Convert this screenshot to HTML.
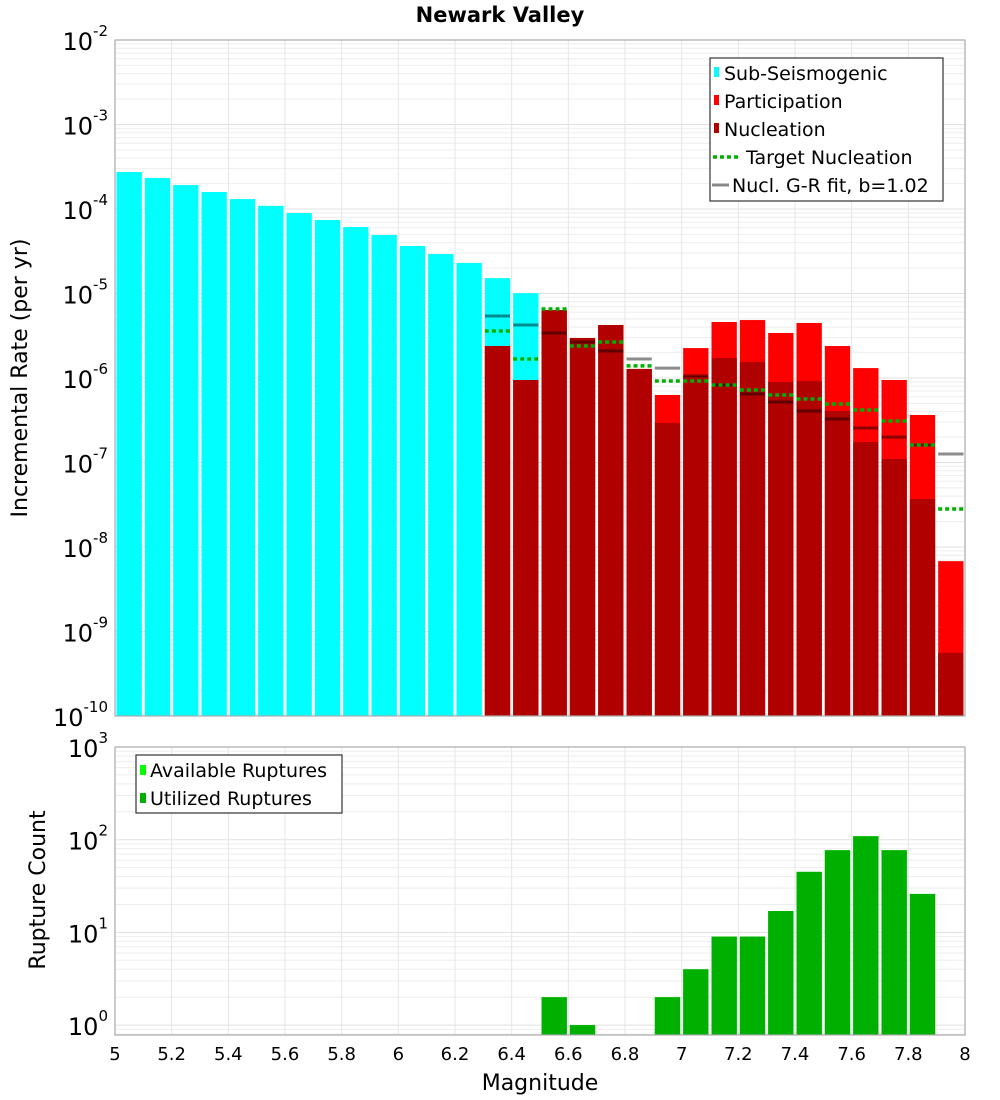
<!DOCTYPE html>
<html><head><meta charset="utf-8"><style>
body{margin:0;background:#fff;}
svg{display:block;font-family:"DejaVu Sans","Liberation Sans",sans-serif;}
</style></head><body>
<svg id="chart" width="1000" height="1100" viewBox="0 0 1000 1100" xmlns="http://www.w3.org/2000/svg">
<text x="500" y="22" text-anchor="middle" font-size="21" font-weight="bold">Newark Valley</text>
<g id="gtop"></g><g id="gbot"></g>
</svg>
<script>
// ---- data ----
const binStarts=[5.0,5.1,5.2,5.3,5.4,5.5,5.6,5.7,5.8,5.9,6.0,6.1,6.2,6.3,6.4,6.5,6.6,6.7,6.8,6.9,7.0,7.1,7.2,7.3,7.4,7.5,7.6,7.7,7.8,7.9];
const subSeis=[2.74e-4,2.33e-4,1.92e-4,1.59e-4,1.31e-4,1.09e-4,8.97e-5,7.41e-5,6.12e-5,4.92e-5,3.65e-5,2.93e-5,2.30e-5,1.52e-5,1.01e-5,0,0,0,0,0,0,0,0,0,0,0,0,0,0,0];
const participation=[0,0,0,0,0,0,0,0,0,0,0,0,0,2.39e-6,9.47e-7,6.38e-6,2.97e-6,4.24e-6,1.28e-6,6.3e-7,2.26e-6,4.60e-6,4.85e-6,3.41e-6,4.48e-6,2.39e-6,1.31e-6,9.47e-7,3.65e-7,6.8e-9];
const nucleation=[0,0,0,0,0,0,0,0,0,0,0,0,0,2.39e-6,9.47e-7,6.38e-6,2.97e-6,4.24e-6,1.28e-6,2.93e-7,1.06e-6,1.73e-6,1.55e-6,8.97e-7,9.2e-7,4.07e-7,1.75e-7,1.10e-7,3.7e-8,5.6e-10];
const targetNucl=[null,null,null,null,null,null,null,null,null,null,null,null,null,3.60e-6,1.68e-6,6.56e-6,2.39e-6,2.67e-6,1.39e-6,9.2e-7,9.2e-7,8.26e-7,7.2e-7,6.3e-7,5.64e-7,4.92e-7,4.18e-7,3.10e-7,1.61e-7,2.82e-8];
const grFit=[null,null,null,null,null,null,null,null,null,null,null,null,null,5.42e-6,4.24e-6,3.41e-6,2.67e-6,2.09e-6,1.68e-6,1.31e-6,1.06e-6,8.26e-7,6.47e-7,5.20e-7,4.07e-7,3.27e-7,2.56e-7,2.00e-7,1.61e-7,1.26e-7];
const available=[0,0,0,0,0,0,0,0,0,0,0,0,0,0,0,2,1,0,0,2,4,9,9,17,45,77,109,77,26,0];
const utilized=[0,0,0,0,0,0,0,0,0,0,0,0,0,0,0,2,1,0,0,2,4,9,9,17,45,77,109,77,26,0];
const xTicks=[5,5.2,5.4,5.6,5.8,6,6.2,6.4,6.6,6.8,7,7.2,7.4,7.6,7.8,8];
const topExps=[-2,-3,-4,-5,-6,-7,-8,-9,-10];
const botExps=[3,2,1,0];

const NS="http://www.w3.org/2000/svg";
const L=115,R=965,TT=40,TB=716,BT=747,BB=1035;
const X=m=>L+(m-5)/3*(R-L);
const YT=v=>TT+(-2-Math.log10(v))*(TB-TT)/8;
const YB=v=>BT+(3-Math.log10(v))*92.7;
function mk(tag,attrs,parent){const e=document.createElementNS(NS,tag);for(const k in attrs)e.setAttribute(k,attrs[k]);parent.appendChild(e);return e;}
const gTop=document.getElementById('gtop'),gBot=document.getElementById('gbot');

function grid(g,y0,y1,lo,hi,Y){
  mk('rect',{x:L,y:y0,width:R-L,height:y1-y0,fill:'#fff'},g);
  for(let e=lo;e<hi;e++)for(let k=1;k<10;k++){const v=k*Math.pow(10,e);const y=Y(v);if(y<y0||y>y1)continue;
    const l=mk('line',{x1:L,x2:R,y1:y,y2:y,stroke:k==1?'#e0e0e0':'#eeeeee','stroke-width':1},g);
    
    }
  xTicks.forEach(t=>{const l=mk('line',{x1:X(t),x2:X(t),y1:y0,y2:y1,stroke:'#e6e6e6'},g);
    
    });
}
grid(gTop,TT,TB,-10,-2,YT);
grid(gBot,BT,BB,-1,3,YB);

function bar(g,i,v,Y,fill,base,name){if(!v)return;const x0=X(binStarts[i])+1.5,x1=X(binStarts[i]+0.1)-1.5;const y=Y(v);
  const r=mk('rect',{x:x0,y:y,width:x1-x0,height:base-y,fill:fill},g);
  
  }
binStarts.forEach((m,i)=>{bar(gTop,i,subSeis[i],YT,'#00ffff',TB,'sub-seismogenic-bar');});
binStarts.forEach((m,i)=>{bar(gTop,i,participation[i],YT,'#ff0000',TB,'participation-bar');});
binStarts.forEach((m,i)=>{bar(gTop,i,nucleation[i],YT,'#b00000',TB,'nucleation-bar');});
function seg(g,i,v,stroke,dash,name,w){if(v==null)return;const x0=X(binStarts[i])+1.5,x1=X(binStarts[i]+0.1)-1.5;const y=YT(v);
  const a={x1:x0,x2:x1,y1:y,y2:y,stroke:stroke,'stroke-width':w};if(dash)a['stroke-dasharray']=dash;
  const l=mk('line',a,g);
  
  }
binStarts.forEach((m,i)=>seg(gTop,i,grFit[i],'rgba(0,0,0,0.45)',null,'gr-fit-segment',3));
binStarts.forEach((m,i)=>seg(gTop,i,targetNucl[i],'#00b000','4,3','target-nucleation-segment',3.5));
binStarts.forEach((m,i)=>{bar(gBot,i,available[i],YB,'#00ff00',BB,'available-ruptures-bar');});
binStarts.forEach((m,i)=>{bar(gBot,i,utilized[i],YB,'#00b000',BB,'utilized-ruptures-bar');});

const svgEl=document.getElementById('chart');
[[TT,TB],[BT,BB]].forEach(([a,b])=>{const f=mk('rect',{x:L,y:a,width:R-L,height:b-a,fill:'none',stroke:'#aaa','stroke-width':1.2},svgEl);
  
  });

function ylab(y,e,name){const t=mk('text',{x:108,y:y+10,'text-anchor':'end','font-size':24},svgEl);
  
  
  t.textContent='10';const s=mk('tspan',{dy:-14,'font-size':15},t);s.textContent=String(e);}
topExps.forEach(e=>ylab(YT(Math.pow(10,e)),e,'y-tick-label-top'));
botExps.forEach(e=>ylab(YB(Math.pow(10,e)),e,'y-tick-label-bottom'));
xTicks.forEach(t=>{const e=mk('text',{x:X(t),y:1060,'text-anchor':'middle','font-size':18},svgEl);
  
  
  e.textContent=String(t);});
</script>
<svg style="position:absolute;left:0;top:0" width="1000" height="1100">
<text x="540" y="1090" text-anchor="middle" font-size="22" font-family="DejaVu Sans, sans-serif">Magnitude</text>
<text transform="translate(27,378) rotate(-90)" text-anchor="middle" font-size="22" font-family="DejaVu Sans, sans-serif">Incremental Rate (per yr)</text>
<text transform="translate(45,890) rotate(-90)" text-anchor="middle" font-size="22" font-family="DejaVu Sans, sans-serif">Rupture Count</text>
<g font-family="DejaVu Sans, sans-serif" font-size="19">
<rect x="710" y="58" width="233" height="143" fill="#fff" stroke="#333" stroke-width="1.2"/>
<rect x="714" y="67" width="5" height="10" fill="#00ffff"/><text x="724" y="80">Sub-Seismogenic</text>
<rect x="714" y="95" width="5" height="10" fill="#ff0000"/><text x="724" y="108">Participation</text>
<rect x="714" y="123" width="5" height="10" fill="#b00000"/><text x="724" y="136">Nucleation</text>
<line x1="713" x2="739" y1="157" y2="157" stroke="#00b000" stroke-width="3.5" stroke-dasharray="4,3"/><text x="746" y="164">Target Nucleation</text>
<line x1="712" x2="729" y1="185" y2="185" stroke="#888" stroke-width="3"/><text x="732" y="192">Nucl. G-R fit, b=1.02</text>
</g>
<g font-family="DejaVu Sans, sans-serif" font-size="19">
<rect x="136" y="755" width="206" height="58" fill="#fff" stroke="#333" stroke-width="1.2"/>
<rect x="140" y="765" width="6" height="10" fill="#00ff00"/><text x="150" y="777">Available Ruptures</text>
<rect x="140" y="793" width="6" height="10" fill="#00b000"/><text x="150" y="805">Utilized Ruptures</text>
</g>
</svg>
</body></html>
